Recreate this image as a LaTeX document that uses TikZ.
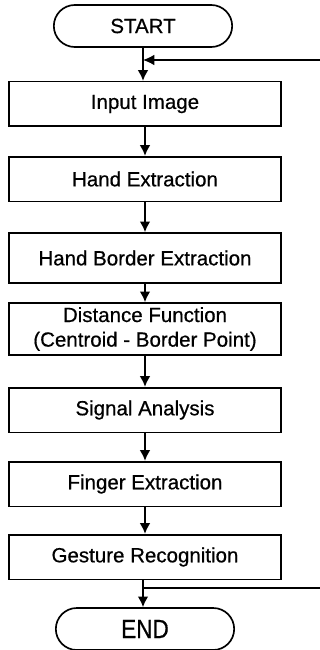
\documentclass[tikz,border=0pt]{standalone}
\usepackage{fontspec,graphicx}
\setmainfont{Liberation Sans}
\newfontfamily\boxfont[FakeBold=0.6]{Liberation Sans}
\usetikzlibrary{
  calc,positioning,
  arrows,arrows.meta
}

\begin{document}
\begin{tikzpicture}[x=0.3mm,y=-0.3mm,
  stepbox/.style={draw,line width=0.5mm,minimum width=81.6mm,minimum height=13.4mm,
    inner sep=1pt,align=center,font=\boxfont\fontsize{17.5}{21}\selectfont},
  termbox/.style={draw,line width=0.5mm,rounded corners=6.3mm,minimum width=53.5mm,
    minimum height=12.6mm,font=\boxfont\fontsize{17.5}{21}\selectfont},
  flow/.style={line width=0.5mm,-{Latex[length=3.2mm,width=3.2mm]}},
  back/.style={line width=0.35mm}
]
\useasboundingbox (0,0) rectangle (320,650);

\node[termbox] (start) at (143,26) {START};
\node[stepbox] (input) at (145,104) {Input Image};
\node[stepbox] (hand) at (145,179) {Hand Extraction};
\node[stepbox,minimum height=15mm] (border) at (145,258) {Hand Border Extraction};
\node[stepbox,minimum height=15.6mm] (dist) at (145,329) {Distance Function\\(Centroid - Border Point)};
\node[stepbox] (signal) at (145,410) {Signal Analysis};
\node[stepbox] (finger) at (145,484) {Finger Extraction};
\node[stepbox] (gesture) at (145,557) {Gesture Recognition};
\node[termbox] (end) at (145,629) {\scalebox{1.1}[1.28]{END}};

\draw[flow] (start.south) -- (start.south |- input.north);
\draw[flow] (input) -- (hand);
\draw[flow] (hand) -- (border);
\draw[flow] (border) -- (dist);
\draw[flow] (dist) -- (signal);
\draw[flow] (signal) -- (finger);
\draw[flow] (finger) -- (gesture);
\draw[flow] (gesture.south -| start.south) -- (end.north -| start.south);

% loop back lines, cut at the right edge
\coordinate (backin) at (320,60);
\coordinate (backout) at (320,588);
\draw[back,-{Latex[length=3.4mm,width=3.2mm]}] (backin) -- (start.south |- backin);
\draw[back] (start.south |- backout) -- (backout);
\end{tikzpicture}
\end{document}
